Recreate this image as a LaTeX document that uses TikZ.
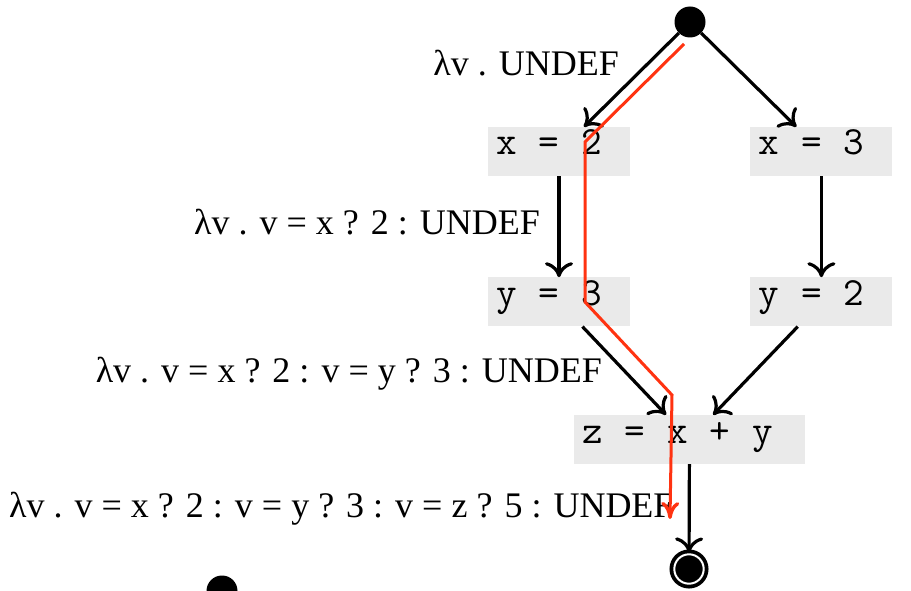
\documentclass[tikz,border=0pt]{standalone}
\usepackage{fontspec}
\setmainfont{Liberation Serif}
\usetikzlibrary{arrows.meta,positioning}
\definecolor{boxgrey}{HTML}{EAEAEA}
\definecolor{tracered}{HTML}{FF3311}
\newcommand{\widespace}{\spaceskip=22pt\relax}
\tikzset{
  stmtbox/.style={rectangle,fill=boxgrey,inner xsep=8pt,inner ysep=0pt,text height=28pt,text depth=21pt,align=left,text width=126pt,font=\fontsize{40}{44}\selectfont\ttfamily,execute at begin node=\widespace},
  envlabel/.style={inner sep=0pt,font=\fontsize{36}{40}\selectfont},
  startdot/.style={circle,fill=black,inner sep=0pt,minimum size=31pt},
  enddot/.style={circle,fill=black,draw=black,inner sep=0pt,minimum size=29.4pt,line width=3.8pt,double=white,double distance=2pt},
  arrow/.style={-{Computer Modern Rightarrow[length=15pt,width=28pt,line width=3.2pt]},line width=3.2pt,draw=black},
  tracearrow/.style={-{Computer Modern Rightarrow[length=17pt,width=18pt,line width=3.4pt]},line width=3pt,draw=tracered}
}

\begin{document}
\begin{tikzpicture}[x=1pt,y=-1pt]
  \useasboundingbox (0,0) rectangle (911,591);
  \node[startdot] (start) at (690,22) {};
  \node[stmtbox] (x2) at (559,151.5) {x = 2};
  \node[stmtbox, right=120pt of x2] (x3) {x = 3};
  \node[stmtbox, below=101pt of x2] (y3) {y = 3};
  \node[stmtbox, below=101pt of x3] (y2) {y = 2};
  \node[stmtbox, text width=215pt] (z) at (689.5,439.5) {z = x + y};
  \node[enddot] (stop) at (689,569) {};
  \node[startdot] (next) at (222,591) {};

  \node[envlabel, anchor=base east] (env0) at (619,76) {λv . UNDEF};
  \node[envlabel, anchor=base east] (env1) at (540,234) {λv . v = x ? 2 : UNDEF};
  \node[envlabel, anchor=base east] (env2) at (602,382) {λv . v = x ? 2 : v = y ? 3 : UNDEF};
  \node[envlabel, anchor=base west] (env3) at (9,517) {λv . v = x ? 2 : v = y ? 3 : v = z ? 5 : UNDEF};

  \draw[arrow] (start) -- (x2);
  \draw[arrow] (start) -- (x3);
  \draw[arrow] (x2) -- (y3);
  \draw[arrow] (x3) -- (y2);
  \draw[arrow] (y3) -- (z);
  \draw[arrow] (y2) -- (z);
  \draw[arrow] (z) -- (stop);

  \coordinate (t0) at (684,44);
  \coordinate (t1) at (585,142);
  \coordinate (t2) at (585,302);
  \coordinate (t3) at (672,395);
  \coordinate (t4) at (670,519);
  \draw[tracearrow] (t0) -- (t1) -- (t2) -- (t3) -- (t4);
\end{tikzpicture}
\end{document}
